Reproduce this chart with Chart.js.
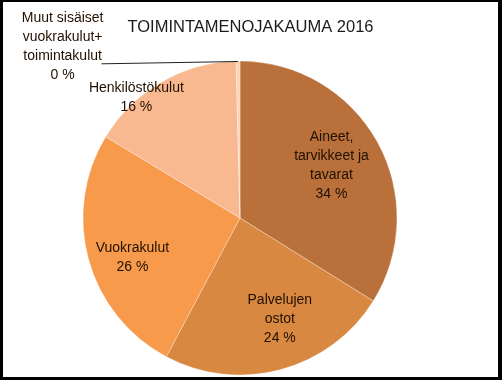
<!DOCTYPE html>
<html>
<head>
<meta charset="utf-8">
<script src="https://cdn.jsdelivr.net/npm/chart.js@4"></script>
<style>
  html, body { margin: 0; padding: 0; background: #fff; }
  #wrap { position: relative; width: 502px; height: 380px; }
  #frame {
    position: absolute; left: 0; top: 0; width: 502px; height: 380px;
    box-sizing: border-box; border-style: solid; border-color: #000;
    border-width: 2px 4px 3px 3px; pointer-events: none;
  }
</style>
</head>
<body>
<div id="wrap">
  <canvas id="chartCostPie" width="502" height="380"></canvas>
  <div id="frame"></div>
</div>
<script>
// Slice names (multi-line as in the original) and shares, clockwise from 12 o'clock
const chartTitle = 'TOIMINTAMENOJAKAUMA 2016';
const categories = [
    ['Aineet,', 'tarvikkeet ja', 'tavarat'],
    ['Palvelujen', 'ostot'],
    ['Vuokrakulut'],
    ['Henkilöstökulut'],
    ['Muut sisäiset', 'vuokrakulut+', 'toimintakulut']
];
const shares = [34, 24, 26, 16, 0.4];
const percentLabels = ['34 %', '24 %', '26 %', '16 %', '0 %'];

const sliceColors = ['#B9703A', '#D98842', '#F79A4C', '#F8B990', '#FCD5B8'];
// where each label sits: fraction of radius, angle shift from slice middle (deg)
const labelPlace = [
    { f: 0.67, da: -0.5 },
    { f: 0.69, da: -6.5 },
    { f: 0.73, da: -4.7 },
    { f: 1.01, da: -10.7 },
    { f: 1.57, da: -45.3, leader: true }
];

const sliceLabels = {
    id: 'sliceLabels',
    afterDatasetsDraw(chart) {
        const ctx = chart.ctx;
        const arcs = chart.getDatasetMeta(0).data;
        const lineH = 19;
        ctx.save();
        ctx.textAlign = 'center';
        ctx.textBaseline = 'middle';

        // title sits a bit right of the pie centre, like the original
        ctx.font = '16.5px "Liberation Sans", Arial, sans-serif';
        ctx.fillStyle = '#1a1a1a';
        ctx.fillText(chartTitle, 250.5, 27.5);

        ctx.font = '14px "Liberation Sans", Arial, sans-serif';
        arcs.forEach((arc, i) => {
            const p = arc.getProps(['x', 'y', 'startAngle', 'endAngle', 'outerRadius'], true);
            const mid = (p.startAngle + p.endAngle) / 2;
            const a = mid + labelPlace[i].da * Math.PI / 180;
            const r = p.outerRadius * labelPlace[i].f;
            const cx = p.x + Math.cos(a) * r;
            const cy = p.y + Math.sin(a) * r;
            const lines = categories[i].concat([percentLabels[i]]);
            const top = cy - (lines.length - 1) * lineH / 2;

            if (labelPlace[i].leader) {
                let w = 0;
                lines.forEach(t => { w = Math.max(w, ctx.measureText(t).width); });
                const ex = p.x + Math.cos(mid) * p.outerRadius;
                const ey = p.y + Math.sin(mid) * p.outerRadius;
                ctx.strokeStyle = '#222';
                ctx.lineWidth = 1;
                ctx.beginPath();
                ctx.moveTo(ex, ey + 0.5);
                ctx.lineTo(cx + w / 2 - 2, top + 2 * lineH + 7.5);
                ctx.stroke();
            }

            ctx.fillStyle = '#201000';
            lines.forEach((t, k) => ctx.fillText(t, cx, top + k * lineH));
        });
        ctx.restore();
    }
};

new Chart(document.getElementById('chartCostPie').getContext('2d'), {
    type: 'pie',
    data: {
        labels: categories.map(c => c.join(' ')),
        datasets: [{
            data: shares,
            backgroundColor: sliceColors,
            borderColor: 'rgba(255, 255, 255, 0.3)',
            borderWidth: 1
        }]
    },
    options: {
        responsive: false,
        animation: false,
        layout: { padding: { left: 82.5, right: 104.5, top: 60.5, bottom: 4.5 } },
        plugins: {
            legend: { display: false },
            tooltip: { enabled: false },
            title: { display: false }
        }
    },
    plugins: [sliceLabels]
});
</script>
</body>
</html>
